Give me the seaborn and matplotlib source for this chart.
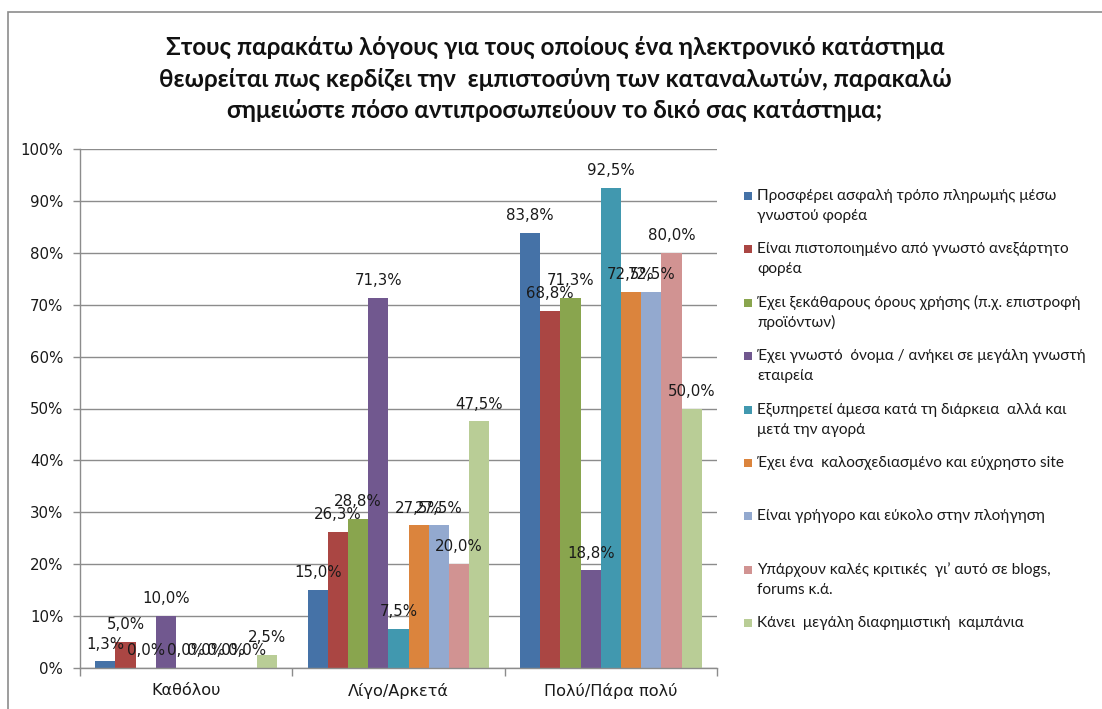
import matplotlib
matplotlib.use("Agg")
import matplotlib.pyplot as plt
from matplotlib.patches import Rectangle
from matplotlib.ticker import FixedLocator, NullFormatter
import numpy as np
import pandas as pd
import seaborn as sns

# ---- data -------------------------------------------------------------
categories = ["Καθόλου", "Λίγο/Αρκετά", "Πολύ/Πάρα πολύ"]

series = [
    "Προσφέρει ασφαλή τρόπο πληρωμής μέσω\nγνωστού φορέα",
    "Είναι πιστοποιημένο από γνωστό ανεξάρτητο\nφορέα",
    "Έχει ξεκάθαρους όρους χρήσης (π.χ. επιστροφή\nπροϊόντων)",
    "Έχει γνωστό  όνομα / ανήκει σε μεγάλη γνωστή\nεταιρεία",
    "Εξυπηρετεί άμεσα κατά τη διάρκεια  αλλά και\nμετά την αγορά",
    "Έχει ένα  καλοσχεδιασμένο και εύχρηστο site",
    "Είναι γρήγορο και εύκολο στην πλοήγηση",
    "Υπάρχουν καλές κριτικές  γι’ αυτό σε blogs,\nforums κ.ά.",
    "Κάνει  μεγάλη διαφημιστική  καμπάνια",
]

kathólou = [1.3, 5.0, 0.0, 10.0, 0.0, 0.0, 0.0, 0.0, 2.5]
ligo_arketa = [15.0, 26.3, 28.8, 71.3, 7.5, 27.5, 27.5, 20.0, 47.5]
poly_para_poly = [83.8, 68.8, 71.3, 18.8, 92.5, 72.5, 72.5, 80.0, 50.0]

yticks = list(range(0, 101, 10))

colors = ["#4572A7", "#AA4643", "#89A54E", "#71588F", "#4198AF",
          "#DB843D", "#93A9CF", "#D19392", "#B9CD96"]

title = ("Στους παρακάτω λόγους για τους οποίους ένα ηλεκτρονικό κατάστημα\n"
         "θεωρείται πως κερδίζει την  εμπιστοσύνη των καταναλωτών, παρακαλώ\n"
         "σημειώστε πόσο αντιπροσωπεύουν το δικό σας κατάστημα;")

# ---- long-form table --------------------------------------------------
values = [kathólou, ligo_arketa, poly_para_poly]
rows = []
for cat, vals in zip(categories, values):
    for s, v in zip(series, vals):
        rows.append({"category": cat, "series": s, "value": v})
df = pd.DataFrame(rows)

# ---- figure -----------------------------------------------------------
sns.set_theme(style="white")
plt.rcParams["font.family"] = ["DejaVu Sans"]

W, H = 1102, 709
fig = plt.figure(figsize=(W / 100, H / 100), dpi=100)
fig.patch.set_facecolor("white")

def fx(px):
    return px / W

def fy(py):
    return 1 - py / H

ax = fig.add_axes([fx(80), fy(668), fx(717) - fx(80), fy(149) - fy(668)])

sns.barplot(data=df, x="category", y="value", hue="series",
            order=categories, hue_order=series, palette=colors,
            width=0.856, gap=0, saturation=1, legend=False,
            linewidth=0, ax=ax)

# value labels above each bar
for s_idx, cont in enumerate(ax.containers):
    vals = [values[c][s_idx] for c in range(len(categories))]
    labs = [f"{v:.1f}".replace(".", ",") + "%" for v in vals]
    ax.bar_label(cont, labels=labs, padding=7, fontsize=10.8, color="#1a1a1a")

# axes styling
grid_col = "#8c8c8c"
ax.set_ylim(0, 100)
ax.set_xlim(-0.5, 2.5)
ax.set_yticks(yticks)
ax.set_yticklabels([f"{t}%" for t in yticks], fontsize=10.8, color="#1a1a1a")
ax.yaxis.grid(True, color=grid_col, linewidth=1)
ax.set_axisbelow(True)

ax.xaxis.set_major_locator(FixedLocator([-0.5, 0.5, 1.5, 2.5]))
ax.xaxis.set_major_formatter(NullFormatter())
ax.xaxis.set_minor_locator(FixedLocator([0, 1, 2]))
ax.set_xticklabels(categories, minor=True, fontsize=11.6, color="#1a1a1a")
ax.tick_params(axis="x", which="major", length=6, width=1, color=grid_col,
               direction="out", bottom=True)
ax.tick_params(axis="x", which="minor", length=0, pad=11)
ax.tick_params(axis="y", length=5, width=1, color=grid_col, direction="out",
               left=True, pad=7)
ax.set_xlabel("")
ax.set_ylabel("")
for side in ["top", "right"]:
    ax.spines[side].set_visible(False)
for side in ["left", "bottom"]:
    ax.spines[side].set_color(grid_col)
    ax.spines[side].set_linewidth(1)

# title
fig.text(fx(555), fy(79), title, ha="center", va="center",
         fontsize=17.4, fontweight="bold", family=["Lato", "DejaVu Sans"],
         linespacing=1.45, color="#111111")

# legend
leg_font = ["Lato", "DejaVu Sans"]
y0, step, line_h = 196, 53.4, 20
for i, (name, col) in enumerate(zip(series, colors)):
    yc = y0 + i * step
    fig.patches.append(Rectangle((fx(744), fy(yc + 4)), fx(8), fy(yc - 4) - fy(yc + 4),
                                 transform=fig.transFigure, facecolor=col,
                                 edgecolor="none"))
    for j, line in enumerate(name.split("\n")):
        fig.text(fx(757), fy(yc + j * line_h), line, ha="left", va="center",
                 fontsize=11.1, family=leg_font, color="#1a1a1a")

# chart frame
fig.patches.append(Rectangle((fx(8), -0.05), 1.2, fy(12) + 0.05,
                             transform=fig.transFigure, facecolor="none",
                             edgecolor="#8c8c8c", linewidth=1.2))

fig.savefig("out.png", dpi=100, facecolor="white")
